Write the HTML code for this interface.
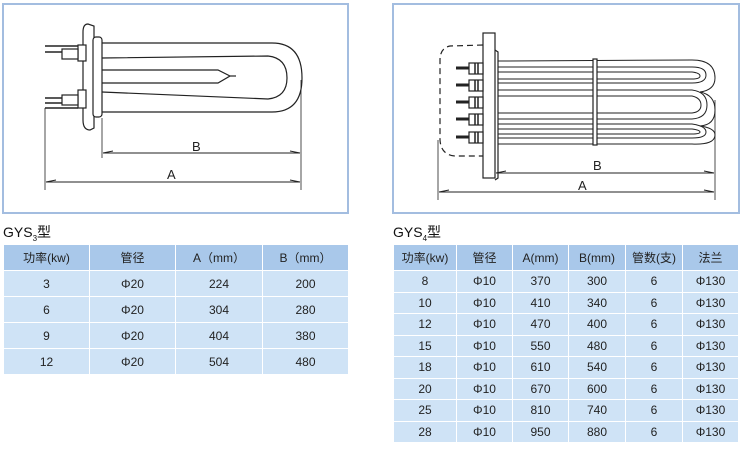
<!DOCTYPE html>
<html><head><meta charset="utf-8"><style>
body{margin:0;width:741px;height:449px;background:#fff;position:relative;overflow:hidden;font-family:"Liberation Sans","Noto Sans CJK SC",sans-serif;}
.box{position:absolute;border:2px solid #a3bde0;box-sizing:border-box;background:#fff}
.c{position:absolute;display:flex;align-items:center;justify-content:center;font-size:12px;color:#222;box-sizing:border-box}
.h{background:#a9c8ea}
.r{background:#cfe3f6}
.t{position:absolute;font-size:14px;color:#111}
</style></head><body>
<div class="box" style="left:2px;top:3px;width:347px;height:211px"></div>
<div class="box" style="left:392px;top:3px;width:348px;height:211px"></div>
<svg width="741" height="449" style="position:absolute;left:0;top:0" fill="none" stroke="#222" stroke-width="1.2" font-family="Liberation Sans">
<!-- left drawing -->
<path d="M88 24 Q83 24 83 32 L83 120 Q83 130 90 130 L94 128 L94 26 Z" fill="#fff"/>
<rect x="93" y="37" width="9" height="80" rx="3" fill="#fff"/>
<path d="M102 43 L272 43 Q302 43 302 78 Q302 112 272 112 L102 112"/>
<path d="M102 58 L268 56 Q287 58 287 78 Q287 97 268 99 L102 92"/>
<path d="M102 70 L218 70 L230 76 L218 83 L102 83"/><path d="M230 76 L236 76"/>
<rect x="78" y="45" width="8" height="16" fill="#fff"/><rect x="78" y="90" width="8" height="18" fill="#fff"/>
<rect x="62" y="49" width="16" height="10" fill="#fff"/><rect x="62" y="95" width="16" height="10" fill="#fff"/>
<path d="M45 46 L78 46 M45 52 L62 52 M45 98 L62 98 M45 103 L62 103 M45 108 L78 108" stroke-width="1.5"/>
<path d="M45 108 L45 190 M301 80 L301 190 M102 118 L102 158" stroke-width="0.8"/>
<path d="M103 153 L300 153 M46 182 L300 182" stroke-width="1"/>
<path d="M103 153 l10 -2 M300 153 l-10 -2 M46 182 l10 -2 M300 182 l-10 -2" stroke-width="1"/>
<text x="192" y="151" font-size="13" fill="#222" stroke="none">B</text>
<text x="167" y="179" font-size="13" fill="#222" stroke="none">A</text>
<!-- right drawing -->
<path d="M483 45 L450 46 Q440 48 440 60 L440 140 Q441 155 455 156 L483 156" stroke-dasharray="6 4"/>
<rect x="483" y="33" width="12" height="145" fill="#fff"/>
<path d="M495 50 L498 52 L498 178 L495 180" />
<g stroke-width="1">
<path d="M498 61 L692 60 Q715 60 715 78 Q715 90 700 92 Q715 95 715 110 Q715 125 700 126 Q715 128 715 135 Q715 145 692 144 L498 144"/>
<path d="M498 67 L692 67 Q706 67 706 75 Q706 83 692 83 L498 83"/>
<path d="M498 72 L692 72 Q700 73 700 76 Q700 79 692 79 L498 79"/>
<path d="M498 90 L692 90 Q707 92 707 105 Q707 118 692 119 L498 119"/>
<path d="M498 96 L692 96 Q701 98 701 105 Q701 112 692 113 L498 113"/>
<path d="M498 124 L692 124 Q706 126 706 132 Q706 138 692 138 L498 138"/>
<path d="M498 129 L692 129 Q700 130 700 132 Q700 134 692 134 L498 134"/>
</g>
<rect x="593" y="59" width="4" height="86" fill="#fff"/>
<g fill="#fff">
<rect x="469" y="63" width="14" height="11"/><rect x="469" y="80" width="14" height="11"/><rect x="469" y="97" width="14" height="11"/><rect x="469" y="114" width="14" height="11"/><rect x="469" y="132" width="14" height="11"/>
</g>
<path d="M456 68 L469 68 M456 85 L469 85 M456 102 L469 102 M456 119 L469 119 M456 137 L469 137" stroke-width="3"/>
<path d="M475 63 v11 M478 63 v11 M475 80 v11 M478 80 v11 M475 97 v11 M478 97 v11 M475 114 v11 M478 114 v11 M475 132 v11 M478 132 v11" stroke-width="1.5"/>
<path d="M438 140 L438 200 M715 100 L715 200" stroke-width="0.8"/>
<path d="M496 173 L714 173 M439 192 L714 192" stroke-width="1"/>
<path d="M496 173 l10 -2 M714 173 l-10 -2 M439 192 l10 -2 M714 192 l-10 -2" stroke-width="1"/>
<text x="593" y="170" font-size="13" fill="#222" stroke="none">B</text>
<text x="578" y="190" font-size="13" fill="#222" stroke="none">A</text>
</svg>
<div class="t" style="left:3px;top:222px">GYS<sub style="font-size:8px">3</sub>型</div>
<div class="t" style="left:393px;top:222px">GYS<sub style="font-size:8px">4</sub>型</div>
<div id="t1"></div><div id="t2"></div>
<script>
function tbl(xs,y0,hh,rh,rows){let o='';
rows.forEach((r,i)=>{let y=i==0?y0:y0+hh+1+(i-1)*(rh+1);let h=i==0?hh:rh;
r.forEach((v,j)=>{o+=`<div class="c ${i==0?'h':'r'}" style="left:${xs[j]}px;top:${y}px;width:${xs[j+1]-xs[j]-1}px;height:${h}px">${v}</div>`;});});
return o;}
document.getElementById('t1').innerHTML=tbl([4,90,176,263,349],245,25,25,[["功率(kw)","管径","A（mm）","B（mm）"],["3","Φ20","224","200"],["6","Φ20","304","280"],["9","Φ20","404","380"],["12","Φ20","504","480"]]);
let R=[["功率(kw)","管径","A(mm)","B(mm)","管数(支)","法兰"]];
[[8,370,300],[10,410,340],[12,470,400],[15,550,480],[18,610,540],[20,670,600],[25,810,740],[28,950,880]].forEach(a=>R.push([a[0],"Φ10",a[1],a[2],"6","Φ130"]));
document.getElementById('t2').innerHTML=tbl([394,457,513,569,626,683,739],245,25,20.5,R);
</script>
</body></html>
